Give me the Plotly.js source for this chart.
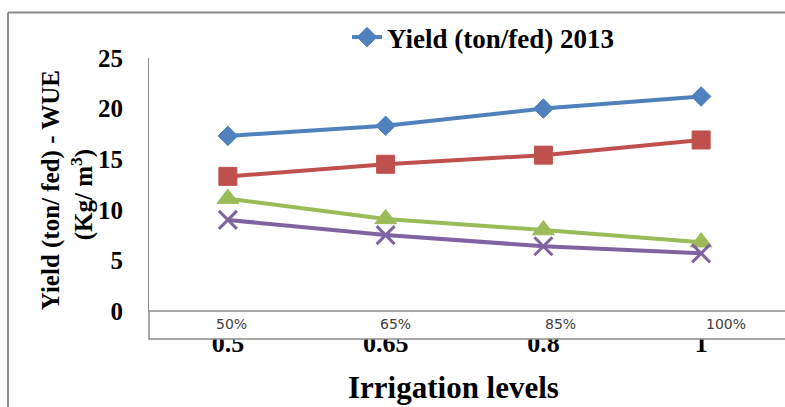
<!DOCTYPE html>
<html>
<head>
<meta charset="utf-8">
<script src="https://cdn.plot.ly/plotly-3.0.1.min.js"></script>
<style>
  html, body { margin: 0; padding: 0; background: #ffffff; }
  #chart { width: 785px; height: 407px; }
</style>
</head>
<body>
<div id="chart"></div>
<script>
// Irrigation levels (fraction of water requirement) and their percentage labels
const categories = ['0.5', '0.65', '0.8', '1'];
const levelLabels = ['50%', '65%', '85%', '100%'];

// Series values
const yield2013 = [17.3, 18.3, 20.0, 21.2];
const yield2014 = [13.3, 14.5, 15.4, 16.9];
const wue2013 = [11.1, 9.1, 8.0, 6.8];
const wue2014 = [9.0, 7.5, 6.4, 5.7];

const W = 785, H = 407;
const M = { l: 149, r: 5, t: 57.5, b: 96 };
const plotW = W - M.l - M.r;
const plotH = H - M.t - M.b;
// pixel -> paper helpers for layout decorations
const px = x => (x - M.l) / plotW;
const py = y => (H - M.b - y) / plotH;

const serif = 'Liberation Serif, Times New Roman, serif';
const frameColor = '#8c8c8c';

function series(name, values, color, symbol, size, extra) {
  return Object.assign({
    type: 'scatter',
    mode: 'lines+markers',
    name: name,
    x: categories,
    y: values,
    line: { color: color, width: 4 },
    marker: { color: color, symbol: symbol, size: size, line: { color: color, width: 1 } },
    cliponaxis: false
  }, extra || {});
}

const data = [
  series('Yield (ton/fed) 2013', yield2013, '#4F81BD', 'diamond', 15),
  series('Yield (ton/fed) 2014', yield2014, '#C0504D', 'square', 18, { showlegend: false }),
  series('WUE (Kg/m³) 2013', wue2013, '#9BBB59', 'triangle-up', 19, { showlegend: false }),
  series('WUE (Kg/m³) 2014', wue2014, '#8064A2', 'x-thin', 18, {
    showlegend: false,
    marker: { color: '#8064A2', symbol: 'x-thin', size: 18, line: { color: '#8064A2', width: 3 } }
  })
];

// Percentage labels inside the band under the x axis
const pctAnnotations = levelLabels.map((t, i) => ({
  text: t,
  xref: 'x', yref: 'paper',
  x: i * 1.045 + 0.02,
  y: py(324),
  showarrow: false,
  xanchor: 'center', yanchor: 'middle',
  font: { family: 'DejaVu Sans, sans-serif', size: 14, color: '#404040' }
}));

const layout = {
  width: W, height: H,
  margin: M,
  paper_bgcolor: '#ffffff',
  plot_bgcolor: '#ffffff',
  showlegend: true,
  legend: {
    orientation: 'h',
    x: px(347), xanchor: 'left',
    y: py(37), yanchor: 'middle',
    bgcolor: 'rgba(0,0,0,0)',
    font: { family: serif, size: 27, color: '#000000', weight: 'bold' }
  },
  xaxis: {
    type: 'category',
    range: [-0.5, 3.5],
    showgrid: false,
    zeroline: false,
    showline: true,
    linecolor: frameColor,
    linewidth: 1,
    ticks: '',
    ticklabelstandoff: 9,
    tickfont: { family: serif, size: 26, color: '#000000', weight: 'bold' },
    fixedrange: true
  },
  yaxis: {
    range: [0, 25],
    dtick: 5,
    tick0: 0,
    showgrid: false,
    zeroline: false,
    showline: true,
    linecolor: frameColor,
    linewidth: 1,
    ticks: '',
    ticklabelstandoff: 20,
    tickfont: { family: serif, size: 25, color: '#000000', weight: 'bold' },
    fixedrange: true
  },
  shapes: [
    // band holding the percentage labels, drawn over the upper part of the x tick labels
    {
      type: 'rect', xref: 'paper', yref: 'paper', layer: 'above',
      x0: 0, x1: px(W + 10), y0: py(339), y1: 0,
      fillcolor: '#ffffff',
      line: { color: frameColor, width: 1.5 }
    },
    // outer frame (top and left edges)
    {
      type: 'line', xref: 'paper', yref: 'paper', layer: 'above',
      x0: px(8), x1: px(W + 10), y0: py(12), y1: py(12),
      line: { color: frameColor, width: 2 }
    },
    {
      type: 'line', xref: 'paper', yref: 'paper', layer: 'above',
      x0: px(8), x1: px(8), y0: py(12), y1: py(H + 10),
      line: { color: frameColor, width: 2 }
    }
  ],
  annotations: pctAnnotations.concat([
    {
      text: '<b>Yield (ton/ fed) - WUE</b>',
      xref: 'paper', yref: 'paper',
      x: px(51), y: py(190),
      textangle: -90,
      showarrow: false,
      xanchor: 'center', yanchor: 'middle',
      font: { family: serif, size: 25, color: '#000000' }
    },
    {
      text: '<b>(Kg/ m<sup>3</sup>)</b>',
      xref: 'paper', yref: 'paper',
      x: px(82), y: py(195),
      textangle: -90,
      showarrow: false,
      xanchor: 'center', yanchor: 'middle',
      font: { family: serif, size: 25, color: '#000000' }
    },
    {
      text: '<b>Irrigation levels</b>',
      xref: 'paper', yref: 'paper',
      x: px(453), y: py(388),
      showarrow: false,
      xanchor: 'center', yanchor: 'middle',
      font: { family: serif, size: 31, color: '#000000' }
    }
  ])
};

Plotly.newPlot('chart', data, layout, { displayModeBar: false, staticPlot: true });
</script>
</body>
</html>
